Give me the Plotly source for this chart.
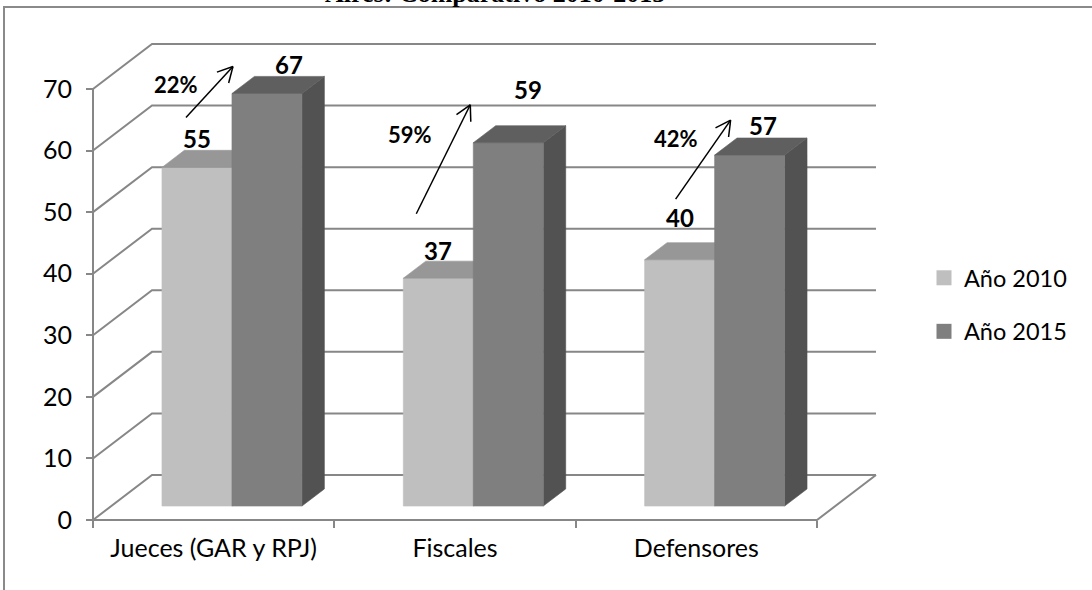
import math
import plotly.graph_objects as go

# ---------------- data ----------------
categories = ["Jueces (GAR y RPJ)", "Fiscales", "Defensores"]
series_names = ["Año 2010", "Año 2015"]
values_2010 = [55, 37, 40]
values_2015 = [67, 59, 57]
change_labels = ["22%", "59%", "42%"]
y_tick_values = [0, 10, 20, 30, 40, 50, 60, 70]
title_text = "Aires: Comparativo 2010-2015"

# ---------------- geometry of the pseudo-3D box ----------------
W, H = 1092, 590
N = len(categories)
Y_MAX = y_tick_values[-1]
X0_PX, XN_PX = 93, 817          # front floor edge, left and right
Y0_PX, YTOP_PX = 520, 89         # pixel rows of 0 and Y_MAX on the front plane
kx = (XN_PX - X0_PX) / N         # pixels per category
ky = (Y0_PX - YTOP_PX) / Y_MAX   # pixels per unit
DX = 59 / kx                     # depth offset (front -> back wall), x units
DY = 45 / ky                     # depth offset, value units
PAD = 4
X_PAD, Y_PAD = PAD / kx, PAD / ky
x_span = N + DX + 2 * X_PAD
y_span = Y_MAX + DY + 2 * Y_PAD
M_L = X0_PX - PAD
M_R = W - (XN_PX + 59 + PAD)
M_T = Y0_PX - (Y0_PX - YTOP_PX) - 45 - PAD
M_B = H - (Y0_PX + PAD)

# bar placement inside each category slot (fractions) and depth range
BAR_SPAN = [(0.21, 0.50), (0.50, 0.79)]
F0, F1 = 0.31, 0.69

GRID = "#878787"
FRONT = ["#BFBFBF", "#7F7F7F"]
TOP = ["#979797", "#5F5F5F"]
SIDE = ["#8C8C8C", "#525252"]
SANS = "Lato, 'Open Sans', Arial, sans-serif"


def proj(x, v, f):
    """Project a point (x, value, depth fraction) onto the chart plane."""
    return x + f * DX, v + f * DY


def to_px(x, v):
    return X0_PX + x * kx, Y0_PX - v * ky


def to_data(px, py):
    return (px - X0_PX) / kx, (Y0_PX - py) / ky


def poly(points, color):
    xs, ys = zip(*(proj(*p) for p in points))
    return go.Scatter(
        x=list(xs) + [xs[0]], y=list(ys) + [ys[0]], mode="lines",
        fill="toself", fillcolor=color, line=dict(color=color, width=0.6),
        hoverinfo="skip", showlegend=False,
    )


fig = go.Figure()

# back wall, left wall and floor lines
gx, gy = [], []
for v in y_tick_values:
    for p in [(0, v, 0), (0, v, 1), (N, v, 1)]:
        px_, py_ = proj(*p)
        gx.append(px_)
        gy.append(py_)
    gx.append(None)
    gy.append(None)
for p in [(0, 0, 0), (N, 0, 0), (N, 0, 1)]:
    px_, py_ = proj(*p)
    gx.append(px_)
    gy.append(py_)
gx.append(None)
gy.append(None)
gx += [0, 0]
gy += [0, Y_MAX]
fig.add_trace(go.Scatter(x=gx, y=gy, mode="lines",
                         line=dict(color=GRID, width=2),
                         hoverinfo="skip", showlegend=False))

# bars: side, front and top faces
series_values = [values_2010, values_2015]
for i in range(N):
    for s, vals in enumerate(series_values):
        v = vals[i]
        a, b = i + BAR_SPAN[s][0], i + BAR_SPAN[s][1]
        fig.add_trace(poly([(b, 0, F0), (b, 0, F1), (b, v, F1), (b, v, F0)], SIDE[s]))
        fig.add_trace(poly([(a, 0, F0), (b, 0, F0), (b, v, F0), (a, v, F0)], FRONT[s]))
        fig.add_trace(poly([(a, v, F0), (b, v, F0), (b, v, F1), (a, v, F1)], TOP[s]))

# legend entries
for s, name in enumerate(series_names):
    fig.add_trace(go.Scatter(
        x=[None], y=[None], mode="markers", name=name, legendgroup=name,
        marker=dict(symbol="square", size=15, color=FRONT[s]),
    ))

annotations = []

# value labels, offset in pixels from the top-front centre of each bar
label_offsets = [
    [(0, 29), (0, 28), (0, 42)],
    [(22, 29), (20, 53), (13, 30)],
]
for s, vals in enumerate(series_values):
    for i, v in enumerate(vals):
        cx, cy = proj(i + sum(BAR_SPAN[s]) / 2, v, F0)
        ox, oy = label_offsets[s][i]
        annotations.append(dict(
            x=cx, y=cy, xref="x", yref="y", text=f"<b>{v}</b>", showarrow=False,
            xanchor="center", yanchor="middle", xshift=ox, yshift=oy,
            font=dict(family=SANS, size=24, color="black"),
        ))

# growth arrows: head relative to the top-left corner of the 2015 bar,
# tail relative to the head (pixels)
arrow_heads = [(1, -27), (-3, -38), (16, -35)]
arrow_tails = [(-47, 51), (-54, 109), (-55, 79)]
pct_offsets = [(-57, 18), (-60, 30), (-55, 18)]
ARM, ANG = 17, math.radians(28)
ax_, ay_ = [], []
for i in range(N):
    cx, cy = proj(i + BAR_SPAN[1][0], values_2015[i], F0)
    hx, hy = to_px(cx, cy)
    hx += arrow_heads[i][0]
    hy += arrow_heads[i][1]
    tx, ty = hx + arrow_tails[i][0], hy + arrow_tails[i][1]
    ux, uy = tx - hx, ty - hy
    n = math.hypot(ux, uy)
    ux, uy = ux / n, uy / n
    pts = [(tx, ty), (hx, hy), None]
    for sgn in (1, -1):
        c, s_ = math.cos(sgn * ANG), math.sin(sgn * ANG)
        rx, ry = ux * c - uy * s_, ux * s_ + uy * c
        pts += [(hx, hy), (hx + ARM * rx, hy + ARM * ry), None]
    for p in pts:
        if p is None:
            ax_.append(None)
            ay_.append(None)
        else:
            dxv, dyv = to_data(*p)
            ax_.append(dxv)
            ay_.append(dyv)
    lx, ly = to_data(hx + pct_offsets[i][0], hy + pct_offsets[i][1])
    annotations.append(dict(
        x=lx, y=ly, xref="x", yref="y", text=f"<b>{change_labels[i]}</b>",
        showarrow=False, xanchor="center", yanchor="middle",
        font=dict(family=SANS, size=22, color="black"),
    ))
fig.add_trace(go.Scatter(x=ax_, y=ay_, mode="lines",
                         line=dict(color="black", width=1.5),
                         hoverinfo="skip", showlegend=False))

# title line (upper part runs off the page)
annotations.append(dict(
    x=(495 - M_L) / (W - M_L - M_R), y=(H - M_B - 10) / (H - M_T - M_B),
    xref="paper", yref="paper", text=f"<b>{title_text}</b>", showarrow=False,
    xanchor="center", yanchor="bottom",
    font=dict(family="'Liberation Serif', 'Times New Roman', serif", size=26,
              color="black"),
))

fig.update_layout(
    width=W, height=H,
    margin=dict(l=M_L, r=M_R, t=M_T, b=M_B, autoexpand=False),
    paper_bgcolor="white", plot_bgcolor="white",
    annotations=annotations,
    showlegend=True,
    legend=dict(
        x=(924 - M_L) / (W - M_L - M_R), y=(H - M_B - 256) / (H - M_T - M_B),
        xanchor="left", yanchor="top", tracegroupgap=20,
        font=dict(family=SANS, size=23.5, color="black"),
        bgcolor="rgba(0,0,0,0)",
    ),
    shapes=[dict(
        type="rect", xref="paper", yref="paper",
        x0=(4 - M_L) / (W - M_L - M_R), x1=(W + 10 - M_L) / (W - M_L - M_R),
        y0=(H - M_B - (H + 10)) / (H - M_T - M_B), y1=(H - M_B - 7) / (H - M_T - M_B),
        line=dict(color="#8A8A8A", width=2), fillcolor="rgba(0,0,0,0)",
        layer="below",
    )],
    xaxis=dict(
        range=[-X_PAD, N + DX + X_PAD], showgrid=False, zeroline=False,
        showline=False, anchor="free", position=Y_PAD / y_span,
        tickmode="array", tickvals=[i + 0.5 for i in range(N)],
        ticktext=categories, ticks="", ticklabelstandoff=11,
        minor=dict(tickmode="array", tickvals=list(range(N + 1)),
                   ticks="outside", ticklen=7, tickwidth=2, tickcolor=GRID,
                   showgrid=False),
        tickfont=dict(family=SANS, size=25, color="black"),
        fixedrange=True,
    ),
    yaxis=dict(
        range=[-Y_PAD, Y_MAX + DY + Y_PAD], showgrid=False, zeroline=False,
        showline=False, anchor="free", position=X_PAD / x_span,
        tickmode="array", tickvals=y_tick_values,
        ticks="outside", ticklen=7, tickwidth=2, tickcolor=GRID,
        ticklabelstandoff=9,
        tickfont=dict(family=SANS, size=25, color="black"),
        fixedrange=True,
    ),
)

fig.write_html("out.html")
